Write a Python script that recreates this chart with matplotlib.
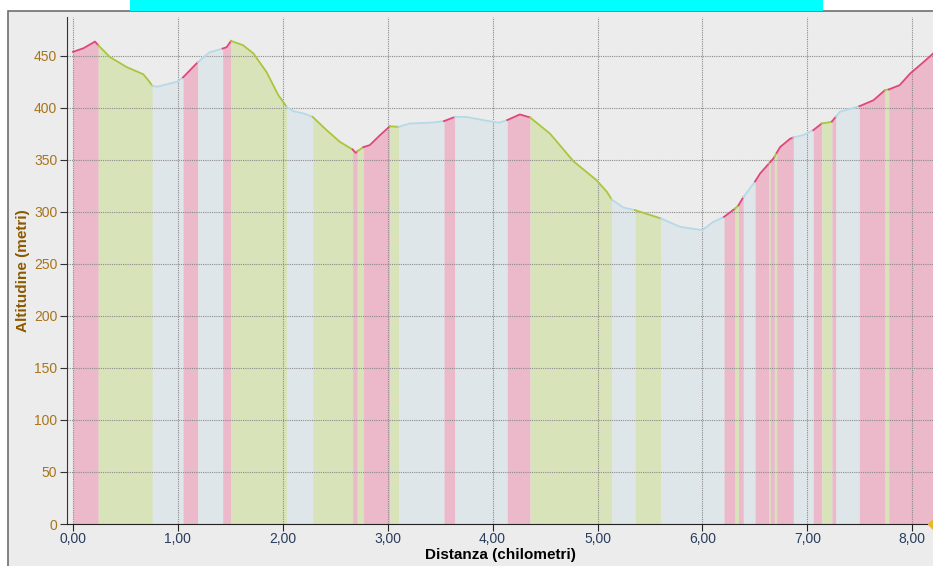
import matplotlib.pyplot as plt
import matplotlib.patches as mpatches
from matplotlib.ticker import FuncFormatter
import numpy as np

# profilo altimetrico: distanza (km) e altitudine (m)
distanza = [0.00, 0.10, 0.21, 0.24, 0.35, 0.51, 0.67, 0.72, 0.756, 0.80, 0.99, 1.049,
            1.19, 1.30, 1.427, 1.465, 1.506, 1.62, 1.72, 1.846, 1.957, 2.037, 2.10, 2.20,
            2.285, 2.418, 2.545, 2.666, 2.695, 2.71, 2.768, 2.83, 2.927, 3.02, 3.105, 3.21,
            3.43, 3.537, 3.64, 3.75, 3.94, 4.06, 4.14, 4.26, 4.357, 4.547, 4.77, 4.99, 5.09,
            5.135, 5.246, 5.357, 5.605, 5.786, 5.88, 6.00, 6.10, 6.206, 6.311, 6.343, 6.39,
            6.50, 6.55, 6.676, 6.74, 6.835, 6.867, 6.96, 7.057, 7.137, 7.232, 7.27, 7.31,
            7.496, 7.63, 7.74, 7.776, 7.88, 7.98, 8.10, 8.20]
altitudine = [453.5, 457, 463.4, 460, 448.7, 439, 432, 426, 421, 420, 424.7, 429,
              443.6, 453, 456.7, 458, 464, 460, 452, 434, 412, 400.7, 396.5, 394.3,
              391, 378.3, 367, 359.7, 356.5, 358, 362, 364, 373.5, 382, 381.5, 384.7,
              385.6, 387, 391, 391, 387.4, 385.5, 388, 393.4, 390.5, 375, 348.5, 330.3, 319,
              311.7, 304, 301.5, 293.5, 285.5, 284, 282.3, 290, 295, 303, 306, 314,
              328.7, 336.7, 351, 362, 370, 371.3, 373.5, 378.3, 384.7, 386.3, 391, 396,
              401.3, 407, 416.7, 417.4, 421.5, 432.7, 443, 452]

# tratti: limiti (km) e tipo (S = salita, D = discesa, P = piano)
limiti_tratti = [0.00, 0.241, 0.756, 1.049, 1.19, 1.427, 1.506, 2.037, 2.285, 2.666, 2.71,
                 2.768, 3.02, 3.105, 3.537, 3.64, 4.14, 4.357, 5.135, 5.357, 5.605, 6.206,
                 6.311, 6.344, 6.39, 6.502, 6.635, 6.647, 6.686, 6.708, 6.867, 7.057, 7.137,
                 7.235, 7.273, 7.496, 7.741, 7.776, 8.20]
tipi_tratti = ['S', 'D', 'P', 'S', 'P', 'S', 'D', 'P', 'D', 'S', 'D',
               'S', 'D', 'P', 'S', 'P', 'S', 'D', 'P', 'D', 'P', 'S',
               'D', 'S', 'P', 'S', 'D', 'S', 'D', 'S', 'P', 'S', 'D',
               'S', 'P', 'S', 'D', 'S']

x_ticks = [0, 1, 2, 3, 4, 5, 6, 7, 8]
y_ticks = [0, 50, 100, 150, 200, 250, 300, 350, 400, 450]

colori_fill = {'S': '#EBB9C9', 'D': '#D9E3BA', 'P': '#DFE6EA'}
colori_linea = {'S': '#E0457B', 'D': '#A9C63C', 'P': '#B5DAE6'}
sfondo = '#ECECEC'

plt.rcParams['font.family'] = ['Liberation Sans', 'DejaVu Sans']

fig = plt.figure(figsize=(9.33, 5.66), dpi=100, facecolor='white')
W, H = 933, 566

# pannello grigio con bordo e barra ciano in alto
fig.patches.append(mpatches.Rectangle((8 / W, -0.05), 1.0, (H - 11) / H + 0.05,
                                      transform=fig.transFigure, facecolor=sfondo,
                                      edgecolor='#6E6E6E', linewidth=1.2, zorder=-2))
fig.patches.append(mpatches.Rectangle((130 / W, (H - 11) / H), 693 / W, 11 / H,
                                      transform=fig.transFigure, facecolor='#00FFFF',
                                      edgecolor='none', zorder=-2))

ax = fig.add_axes([67 / W, (H - 524) / H, (W - 67) / W, (524 - 17) / H])
ax.set_facecolor(sfondo)

dist = np.array(distanza)
alt = np.array(altitudine)
for a, b, t in zip(limiti_tratti[:-1], limiti_tratti[1:], tipi_tratti):
    xs = np.concatenate([[a], dist[(dist > a) & (dist < b)], [b]])
    ys = np.interp(xs, dist, alt)
    ax.fill_between(xs, 0, ys, color=colori_fill[t], linewidth=0, zorder=1)
    ax.plot(xs, ys, color=colori_linea[t], linewidth=1.3, zorder=3)

ax.plot([8.198], [0], marker='D', color='#E8B830', markersize=5, clip_on=False, zorder=5)

ax.set_xlim(-0.057, 8.198)
ax.set_ylim(0, 487)
ax.set_xticks(x_ticks)
ax.set_yticks(y_ticks)
ax.xaxis.set_major_formatter(FuncFormatter(lambda v, p: f'{v:.2f}'.replace('.', ',')))
ax.grid(True, linestyle=(0, (1, 1)), color='#8A8A8A', linewidth=0.8, zorder=2)
ax.set_axisbelow(False)

for s in ['top', 'right']:
    ax.spines[s].set_visible(False)
ax.spines['left'].set_color('#333333')
ax.spines['bottom'].set_color('#222222')
ax.spines['left'].set_zorder(4)
ax.spines['bottom'].set_zorder(4)

ax.tick_params(axis='y', length=5, pad=2, labelsize=10, labelcolor='#A8741A', color='#333333')
ax.tick_params(axis='x', length=5, pad=1, labelsize=10, labelcolor='#2A3D5C', color='#222222')

ax.set_xlabel('Distanza (chilometri)', fontsize=11, fontweight='bold', color='black', labelpad=1)
ax.set_ylabel('Altitudine (metri)', fontsize=11, fontweight='bold', color='#8B5A00', labelpad=3)

fig.savefig('out.png', dpi=100, facecolor='white')
